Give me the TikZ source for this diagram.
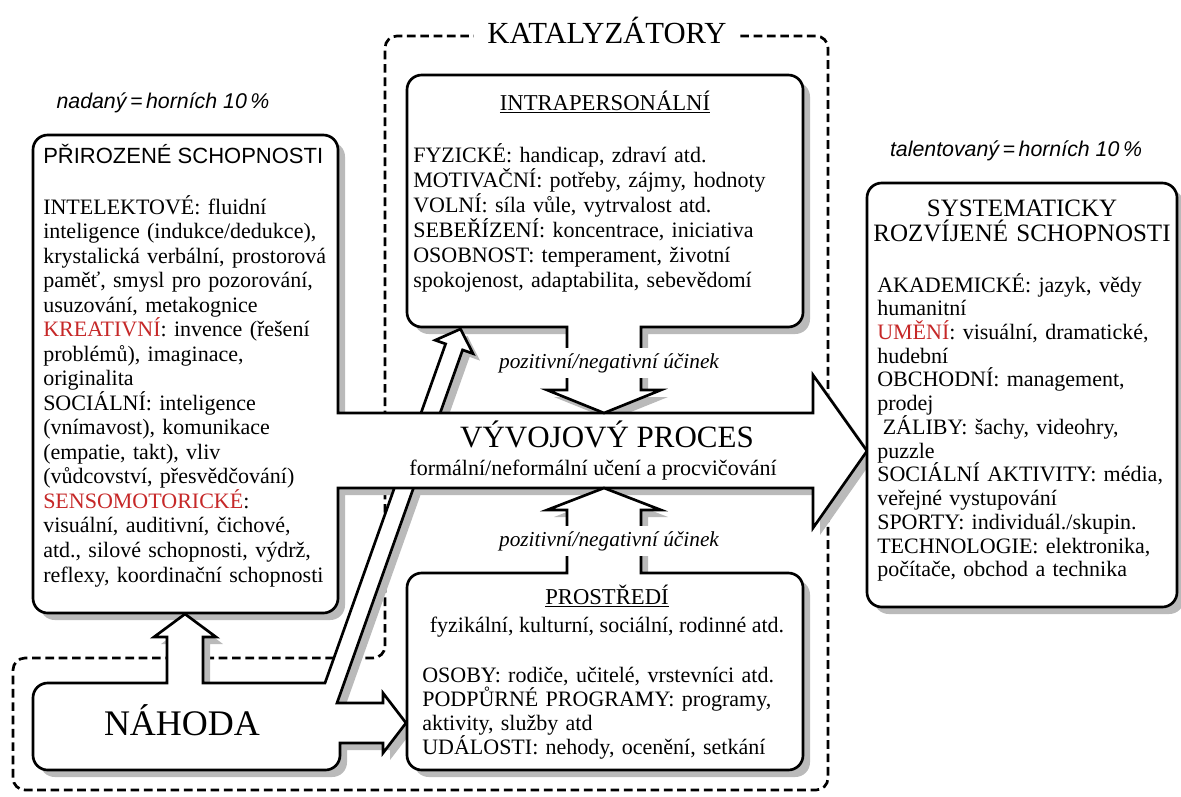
\documentclass[tikz,border=0pt]{standalone}
\usepackage{fontspec}
\setmainfont{Liberation Serif}
\setsansfont{Liberation Sans}
\definecolor{katred}{HTML}{C62828}

% Outlines, in pixels of the sketch (y runs down).
\newcommand\natpath{(185,135) -- (338,135) -- (338,300) [sharp corners]
  -- (338,413) -- (813,413) -- (813,375) -- (867,451) -- (813,528)
  -- (813,488) -- (338,488) -- (338,550) [rounded corners=11pt]
  -- (338,613) -- (33,613) -- (33,135) -- cycle}
\newcommand\intrapath{(605,75) -- (803,75) -- (803,327) -- (720,327) [sharp corners]
  -- (641,327) -- (641,390) -- (661,390) -- (604,413) -- (547,390)
  -- (567,390) -- (567,327) -- (490,327) [rounded corners=11pt]
  -- (407,327) -- (407,75) -- cycle}
\newcommand\envpath{(605,770) -- (407,770) -- (407,573) -- (490,573) [sharp corners]
  -- (567,573) -- (567,510) -- (547,510) -- (604,488) -- (661,510)
  -- (641,510) -- (641,573) -- (720,573) [rounded corners=11pt]
  -- (803,573) -- (803,770) -- cycle}
\newcommand\chancepath{(100,770) -- (33,770) -- (33,683) -- (100,683) [sharp corners]
  -- (167,683) -- (167,637) -- (154,637) -- (185,614) -- (216,637)
  -- (203,637) -- (203,683) -- (325,683)
  -- (445.6,343.9) -- (435.2,340.2) -- (460.5,329) -- (473,353.6) -- (462.6,349.9)
  -- (337,703) -- (383,703) -- (383,693) -- (406,723) -- (383,753)
  -- (383,743) -- (340,743) -- (340,752) [rounded corners=11pt]
  -- (340,770) -- cycle}

\begin{document}
\begin{tikzpicture}[x=0.75pt,y=-0.75pt,
    shapeline/.style={line width=2pt,fill=white,rounded corners=11pt},
    dropfill/.style={fill=black!27,rounded corners=11pt,shift={(7,7)}},
    dashframe/.style={line width=2pt,dash pattern=on 6.5pt off 3.5pt,rounded corners=9pt},
    bodytext/.style={font=\fontsize{16.5}{#1}\selectfont,align=left,anchor=base west,
      inner sep=0pt,text width=265pt},
    effect/.style={font=\fontsize{16}{18}\selectfont\itshape,anchor=base,
      fill=white,inner xsep=2pt,inner ysep=4pt},
    tag/.style={font=\sffamily\itshape\fontsize{16}{18}\selectfont,anchor=base,inner sep=0pt}]
  \useasboundingbox (0,0) rectangle (1181,796);

  % Catalysts and chance, dashed.
  \draw[dashframe] (385,658) -- (385,36) -- (828,36) -- (828,790)
    -- (13,790) -- (13,658) -- cycle;

  % Shadows first, then the shapes.
  \fill[dropfill] \chancepath;
  \fill[dropfill] \natpath;
  \fill[dropfill] \intrapath;
  \fill[dropfill] \envpath;
  \fill[dropfill] (867,183) rectangle (1177,607);

  \draw[shapeline] \chancepath;
  \draw[shapeline] \natpath;
  \draw[shapeline] \intrapath;
  \draw[shapeline] \envpath;
  \draw[shapeline] (867,183) rectangle (1177,607);

  \node[fill=white,inner xsep=10pt,inner ysep=0pt,anchor=base,
    font=\fontsize{23}{26}\selectfont] (katal) at (607,43) {KATALYZÁTORY};
  \node[tag] (natag) at (163,108) {nadaný\,=\,horních 10\,\%};
  \node[tag] (taltag) at (1016,156) {talentovaný\,=\,horních 10\,\%};

  % Natural abilities.
  \node[anchor=base west,inner sep=0pt,font=\sffamily\fontsize{16.5}{18}\selectfont]
    (nattitle) at (43,163) {PŘIROZENÉ SCHOPNOSTI};
  \node[bodytext=18.4pt] (natbody) at (43,214) {INTELEKTOVÉ: fluidní\\
    inteligence (indukce/dedukce),\\
    krystalická verbální, prostorová\\
    paměť, smysl pro pozorování,\\
    usuzování, metakognice\\
    \textcolor{katred}{KREATIVNÍ}: invence (řešení\\
    problémů), imaginace,\\
    originalita\\
    SOCIÁLNÍ: inteligence\\
    (vnímavost), komunikace\\
    (empatie, takt), vliv\\
    (vůdcovství, přesvědčování)\\
    \textcolor{katred}{SENSOMOTORICKÉ}:\\
    visuální, auditivní, čichové,\\
    atd., silové schopnosti, výdrž,\\
    reflexy, koordinační schopnosti};

  % Intrapersonal.
  \node[anchor=base,inner sep=0pt,font=\fontsize{17}{18}\selectfont]
    (intrahead) at (605,110) {\underline{INTRAPERSONÁLNÍ}};
  \node[bodytext=18.75pt] (intrabody) at (413,162) {FYZICKÉ: handicap, zdraví atd.\\
    MOTIVAČNÍ: potřeby, zájmy, hodnoty\\
    VOLNÍ: síla vůle, vytrvalost atd.\\
    SEBEŘÍZENÍ: koncentrace, iniciativa\\
    OSOBNOST: temperament, životní\\
    spokojenost, adaptabilita, sebevědomí};

  % Development process.
  \node[anchor=base,inner sep=0pt,font=\fontsize{23.25}{26}\selectfont]
    (devtitle) at (607,447) {VÝVOJOVÝ PROCES};
  \node[anchor=base,inner sep=0pt,font=\fontsize{16.5}{18}\selectfont]
    (devsub) at (593,475) {formální/neformální učení a procvičování};
  \node[effect] (fxup) at (609,368) {pozitivní/negativní účinek};
  \node[effect] (fxdown) at (609,546) {pozitivní/negativní účinek};

  % Environment.
  \node[anchor=base,inner sep=0pt,font=\fontsize{17}{18}\selectfont]
    (envhead) at (607,604) {\underline{PROSTŘEDÍ}};
  \node[anchor=base,inner sep=0pt,font=\fontsize{16.5}{18}\selectfont]
    (envline) at (607,632) {fyzikální, kulturní, sociální, rodinné atd.};
  \node[bodytext=18pt] (envbody) at (422,682) {OSOBY: rodiče, učitelé, vrstevníci atd.\\
    PODPŮRNÉ PROGRAMY: programy,\\
    aktivity, služby atd\\
    UDÁLOSTI: nehody, ocenění, setkání};

  % Chance.
  \node[anchor=base,inner sep=0pt,font=\fontsize{27}{30}\selectfont]
    (chance) at (182,735) {NÁHODA};

  % Talents.
  \node[anchor=base,inner sep=0pt,align=center,text width=240pt,
    font=\fontsize{18.75}{18.75}\selectfont] (talhead) at (1022,216)
    {SYSTEMATICKY\\ROZVÍJENÉ SCHOPNOSTI};
  \node[bodytext=17.8pt] (talbody) at (877,292) {AKADEMICKÉ: jazyk, vědy\\
    humanitní\\
    \textcolor{katred}{UMĚNÍ}: visuální, dramatické,\\
    hudební\\
    OBCHODNÍ: management,\\
    prodej\\
    \hspace*{0.25em}ZÁLIBY: šachy, videohry,\\
    puzzle\\
    SOCIÁLNÍ AKTIVITY: média,\\
    veřejné vystupování\\
    SPORTY: individuál./skupin.\\
    TECHNOLOGIE: elektronika,\\
    počítače, obchod a technika};
\end{tikzpicture}
\end{document}
